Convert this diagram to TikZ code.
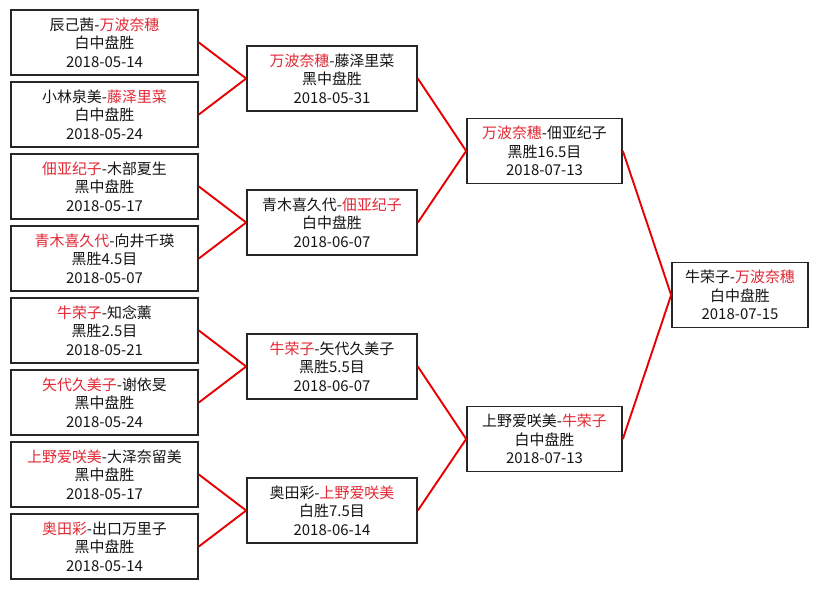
\documentclass[tikz,border=0pt]{standalone}
\usepackage{fontspec}
\setmainfont{Noto Sans CJK SC}
\definecolor{wred}{RGB}{226,40,52}
\definecolor{lred}{RGB}{232,0,0}
\definecolor{tblack}{RGB}{20,20,20}
\newcommand{\W}[1]{\textcolor{wred}{#1}}
\begin{document}
\begin{tikzpicture}[x=1bp,y=-1bp,
  box/.style={draw=black!85, line width=1.7bp, rectangle, minimum height=65bp, inner sep=0pt, align=center, text=tblack, font=\fontsize{15}{18.5}\selectfont},
  c1/.style={box, minimum width=187bp},
  c2/.style={box, minimum width=170bp},
  c3/.style={box, minimum width=155bp},
  c4/.style={box, minimum width=136bp},
  conn/.style={draw=lred, line width=1.9bp}]
\useasboundingbox[fill=white] (0,0) rectangle (820,589);
% column 1
\node[c1] (a1) at (104.5,42.5)  {辰己茜-\W{万波奈穗}\\白中盘胜\\2018-05-14};
\node[c1] (a2) at (104.5,114.5) {小林泉美-\W{藤泽里菜}\\白中盘胜\\2018-05-24};
\node[c1] (a3) at (104.5,186.5) {\W{佃亚纪子}-木部夏生\\黑中盘胜\\2018-05-17};
\node[c1] (a4) at (104.5,258.5) {\W{青木喜久代}-向井千瑛\\黑胜4.5目\\2018-05-07};
\node[c1] (a5) at (104.5,330.5) {\W{牛荣子}-知念薰\\黑胜2.5目\\2018-05-21};
\node[c1] (a6) at (104.5,402.5) {\W{矢代久美子}-谢依旻\\黑中盘胜\\2018-05-24};
\node[c1] (a7) at (104.5,474.5) {\W{上野爱咲美}-大泽奈留美\\黑中盘胜\\2018-05-17};
\node[c1] (a8) at (104.5,546.5) {\W{奥田彩}-出口万里子\\黑中盘胜\\2018-05-14};
% column 2
\node[c2] (b1) at (332,78.5)  {\W{万波奈穗}-藤泽里菜\\黑中盘胜\\2018-05-31};
\node[c2] (b2) at (332,222.5) {青木喜久代-\W{佃亚纪子}\\白中盘胜\\2018-06-07};
\node[c2] (b3) at (332,366.5) {\W{牛荣子}-矢代久美子\\黑胜5.5目\\2018-06-07};
\node[c2] (b4) at (332,510.5) {奥田彩-\W{上野爱咲美}\\白胜7.5目\\2018-06-14};
% column 3
\node[c3] (d1) at (544.5,151) {\W{万波奈穗}-佃亚纪子\\黑胜16.5目\\2018-07-13};
\node[c3] (d2) at (544.5,439) {上野爱咲美-\W{牛荣子}\\白中盘胜\\2018-07-13};
% final
\node[c4] (f) at (740,295) {牛荣子-\W{万波奈穗}\\白中盘胜\\2018-07-15};
% connectors
\draw[conn] (a1.east) -- (b1.west);
\draw[conn] (a2.east) -- (b1.west);
\draw[conn] (a3.east) -- (b2.west);
\draw[conn] (a4.east) -- (b2.west);
\draw[conn] (a5.east) -- (b3.west);
\draw[conn] (a6.east) -- (b3.west);
\draw[conn] (a7.east) -- (b4.west);
\draw[conn] (a8.east) -- (b4.west);
\draw[conn] (b1.east) -- (d1.west);
\draw[conn] (b2.east) -- (d1.west);
\draw[conn] (b3.east) -- (d2.west);
\draw[conn] (b4.east) -- (d2.west);
\draw[conn] (d1.east) -- (f.west);
\draw[conn] (d2.east) -- (f.west);
\end{tikzpicture}
\end{document}
